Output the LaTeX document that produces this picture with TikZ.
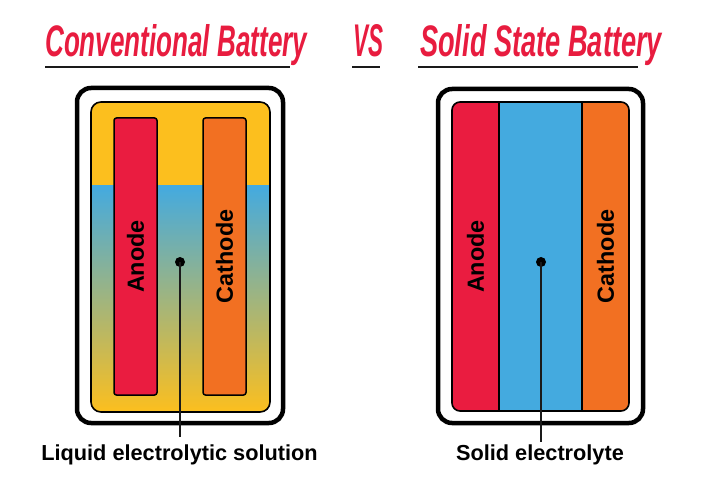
\documentclass[tikz,border=0pt]{standalone}
\usepackage{fontspec}
\setmainfont{Liberation Sans}
\usepackage{graphicx}
\definecolor{titlered}{HTML}{E81C3F}
\definecolor{anodered}{HTML}{EA1C40}
\definecolor{cathorange}{HTML}{F27022}
\definecolor{elyellow}{HTML}{FCBF1E}
\definecolor{elblue}{HTML}{44AADF}
\definecolor{inkline}{HTML}{1A1A1A}
\begin{document}
\begin{tikzpicture}[x=1bp,y=-1bp,
  casing/.style={draw=black,line width=4.5bp,rounded corners=14bp},
  cellborder/.style={draw=black,line width=1.6bp},
  elec/.style={draw=black,line width=1.5bp,rounded corners=2.5bp,inner sep=0pt},
  eleclabel/.style={font=\fontsize{23.5}{24}\selectfont\bfseries,rotate=90,inner sep=0pt},
  caption/.style={font=\fontsize{21.8}{22}\selectfont\bfseries,inner sep=0pt,anchor=base},
  title/.style={text=titlered,inner sep=0pt,anchor=base west},
  uline/.style={draw=inkline,line width=2.5bp},
  pointer/.style={draw=inkline,line width=1.5bp},
  dotmark/.style={circle,fill=black,inner sep=0pt,minimum size=10bp}
]
\useasboundingbox (0,0) rectangle (720,480);
\fill[white] (0,0) rectangle (720,480);

% ---------- titles ----------
\node[title] (t1) at (45,57) {\resizebox{263bp}{32bp}{\textbf{\textit{Conventional Battery}}}};
\node[title] (tvs) at (353,57) {\resizebox{30bp}{32bp}{\textbf{\textit{VS}}}};
\node[title] (t2) at (420,57) {\resizebox{243bp}{32bp}{\textbf{\textit{Solid State Battery}}}};
\draw[uline] (45,67) -- (290,67);
\draw[uline] (352,67) -- (380,67);
\draw[uline] (418,67) -- (638,67);

% ---------- conventional battery ----------
\draw[casing] (77,88) rectangle (283,423);
\begin{scope}
  \clip[rounded corners=10bp] (91,102) rectangle (270,412);
  \fill[elyellow] (91,102) rectangle (270,412);
  \shade[top color=elblue,bottom color=elyellow] (91,186) rectangle (270,412);
\end{scope}
\draw[cellborder,rounded corners=10bp] (91,102) rectangle (270,412);

\node[elec,fill=anodered,minimum width=43bp,minimum height=277bp] (anL) at (135.5,256.5) {};
\node[elec,fill=cathorange,minimum width=43bp,minimum height=277bp] (caL) at (224.5,256.5) {};
\node[eleclabel] (anLt) at (anL.center) {Anode};
\node[eleclabel] (caLt) at (caL.center) {Cathode};

\node[dotmark] (dL) at (180,262) {};
\coordinate (eL) at (180,437);
\draw[pointer] (dL.center) -- (eL);
\node[caption] (capL) at (179.5,460) {Liquid electrolytic solution};

% ---------- solid state battery ----------
\draw[casing] (438,89) rectangle (643,423);
\begin{scope}
  \clip[rounded corners=8bp] (452,102) rectangle (629,411);
  \fill[elblue] (452,102) rectangle (629,411);
  \node[elec,rounded corners=0pt,fill=anodered,minimum width=47bp,minimum height=309bp] (anR) at (475.5,256.5) {};
  \node[elec,rounded corners=0pt,fill=cathorange,minimum width=47bp,minimum height=309bp] (caR) at (605.5,256.5) {};
\end{scope}
\draw[cellborder,rounded corners=8bp] (452,102) rectangle (629,411);
\node[eleclabel] (anRt) at (anR.center) {Anode};
\node[eleclabel] (caRt) at (caR.center) {Cathode};

\node[dotmark] (dR) at (541,262) {};
\coordinate (eR) at (541,442);
\draw[pointer] (dR.center) -- (eR);
\node[caption] (capR) at (540,460) {Solid electrolyte};
\end{tikzpicture}
\end{document}
